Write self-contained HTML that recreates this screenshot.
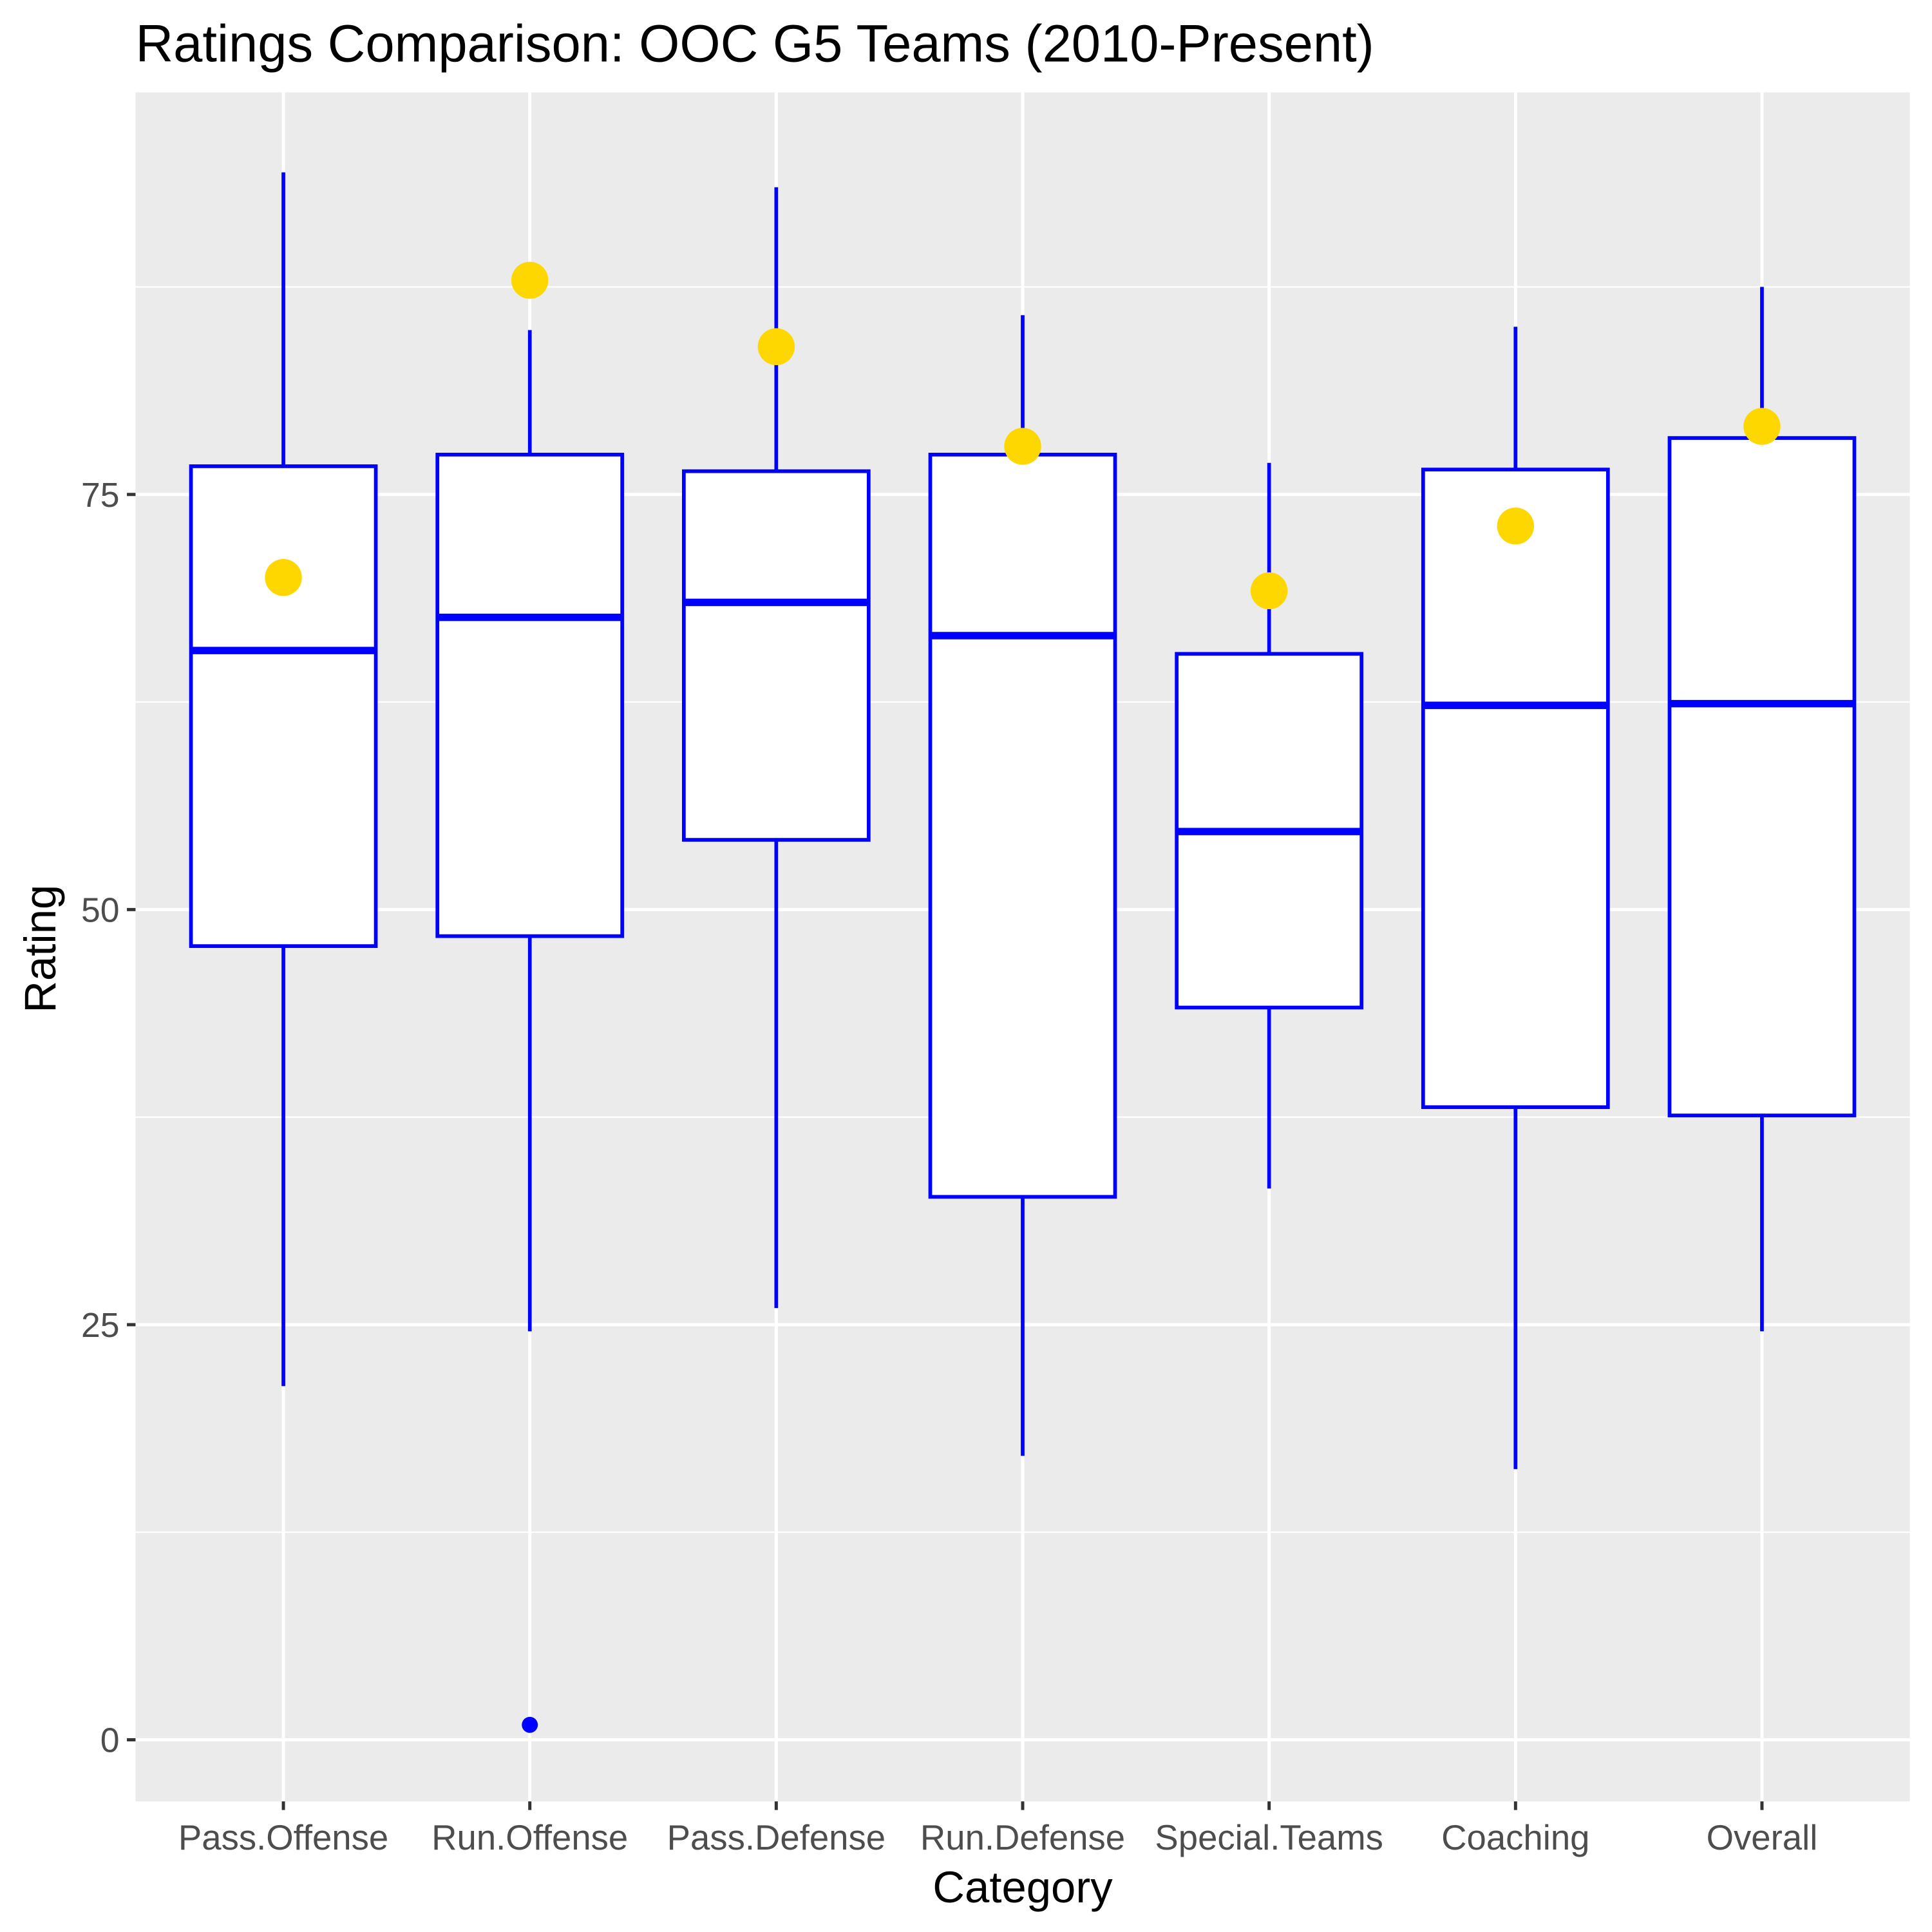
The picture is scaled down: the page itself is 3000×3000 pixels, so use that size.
<!DOCTYPE html>
<html><head><meta charset="utf-8"><style>html,body{margin:0;padding:0;background:#fff}svg{display:block}text{font-family:"Liberation Sans",sans-serif}</style></head>
<body>
<svg id="chart" width="3000" height="3000" viewBox="0 0 1568 1568" xmlns="http://www.w3.org/2000/svg">
<text x="110" y="50" font-size="42.5" fill="#000">Ratings Comparison: OOC G5 Teams (2010-Present)</text>
<rect x="110" y="75" width="1440" height="1387" fill="#ebebeb"/>
<g id="grid"></g>
<g id="marks"></g>
<g id="axes"></g>
<text x="830" y="1544" font-size="36" text-anchor="middle" fill="#000">Category</text>
<text transform="translate(45,770) rotate(-90)" font-size="36" text-anchor="middle" fill="#000">Rating</text>
</svg>
<script>
const categories=["Pass.Offense","Run.Offense","Pass.Defense","Run.Defense","Special.Teams","Coaching","Overall"];
const upperWhisker=[94.4,84.9,93.5,85.8,76.9,85.1,87.5];
const q3=[76.7,77.4,76.4,77.4,65.4,76.5,78.4];
const median=[65.6,67.6,68.5,66.5,54.7,62.3,62.4];
const q1=[47.8,48.4,54.2,32.7,44.1,38.1,37.6];
const lowerWhisker=[21.3,24.6,26.0,17.1,33.2,16.3,24.6];
const goldPoints=[70.0,87.9,83.9,77.9,69.2,73.1,79.1];
const outlierCats=["Run.Offense"];
const outlierVals=[0.9];
const yTicks=[0,25,50,75];
const yMinor=[12.5,37.5,62.5,87.5];
const NS="http://www.w3.org/2000/svg";
function y(v){return 1412-v*13.476;}
function x(c){return 230+categories.indexOf(c)*200;}
function mk(tag,attrs,parent){const e=document.createElementNS(NS,tag);for(const k in attrs)e.setAttribute(k,attrs[k]);document.getElementById(parent).appendChild(e);return e;}
yMinor.forEach(v=>{const l=mk('line',{x1:110,x2:1550,y1:y(v),y2:y(v),stroke:'#fff','stroke-width':1.2},'grid');

});
yTicks.forEach(v=>{const l=mk('line',{x1:110,x2:1550,y1:y(v),y2:y(v),stroke:'#fff','stroke-width':2.6},'grid');


const t=mk('line',{x1:103,x2:110,y1:y(v),y2:y(v),stroke:'#333','stroke-width':2.6},'axes');


const tx=mk('text',{x:97,y:y(v)+10,'font-size':28,'text-anchor':'end',fill:'#4d4d4d'},'axes');tx.textContent=v;

});
categories.forEach((c,i)=>{const cx=x(c);
const g=mk('line',{x1:cx,x2:cx,y1:75,y2:1462,stroke:'#fff','stroke-width':2.6},'grid');


const t=mk('line',{x1:cx,x2:cx,y1:1462,y2:1469,stroke:'#333','stroke-width':2.6},'axes');


const tx=mk('text',{x:cx,y:1501,'font-size':28.5,'text-anchor':'middle',fill:'#4d4d4d'},'axes');tx.textContent=c;


const w1=mk('line',{x1:cx,x2:cx,y1:y(upperWhisker[i]),y2:y(q3[i]),stroke:'#0000ff','stroke-width':3},'marks');


const w2=mk('line',{x1:cx,x2:cx,y1:y(q1[i]),y2:y(lowerWhisker[i]),stroke:'#0000ff','stroke-width':3},'marks');


const b=mk('rect',{x:cx-75,y:y(q3[i]),width:150,height:y(q1[i])-y(q3[i]),fill:'#fff',stroke:'#0000ff','stroke-width':3},'marks');


const m=mk('line',{x1:cx-75,x2:cx+75,y1:y(median[i]),y2:y(median[i]),stroke:'#0000ff','stroke-width':6},'marks');


const p=mk('circle',{cx:cx,cy:y(goldPoints[i]),r:15,fill:'#ffd700'},'marks');

});
outlierCats.forEach((c,i)=>{const o=mk('circle',{cx:x(c),cy:y(outlierVals[i]),r:6.5,fill:'#0000ff'},'marks');

});
</script>
</body></html>
